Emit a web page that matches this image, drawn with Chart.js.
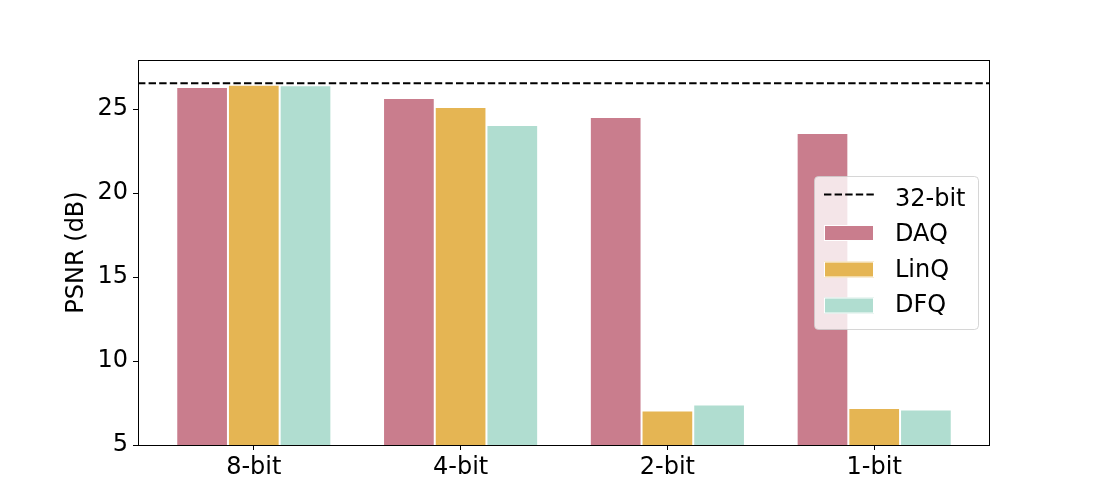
<!DOCTYPE html>
<html>
<head>
<meta charset="utf-8">
<script src="https://cdn.jsdelivr.net/npm/chart.js@4/dist/chart.umd.min.js"></script>
<style>
  html, body { margin: 0; padding: 0; background: #fff; }
  #wrap { width: 1100px; height: 500px; }
</style>
</head>
<body>
<div id="wrap"><canvas id="psnr" width="1100" height="500"></canvas></div>
<script>
// ── Data ──
const CATEGORIES = ['8-bit', '4-bit', '2-bit', '1-bit'];
const DAQ  = [26.32, 25.67, 24.54, 23.58];
const LINQ = [26.46, 25.13, 7.05, 7.21];
const DFQ  = [26.42, 24.06, 7.41, 7.11];
const FULL_PRECISION = 26.54;   // 32-bit reference
const Y_TICKS = [5, 10, 15, 20, 25];
const X_RANGE = [-0.56, 3.56];
const Y_RANGE = [5, 27.93];

const COLORS = { daq: '#c97d8d', linq: '#e5b553', dfq: '#b0ddd0' };
const FONT = { family: '"DejaVu Sans", sans-serif', size: 24 };

const toPoints = arr => arr.map((v, i) => ({ x: i, y: v }));

// frame around the plot area
const framePlugin = {
    id: 'frame',
    afterDatasetsDraw(chart) {
        const { ctx, chartArea: a } = chart;
        ctx.save();
        ctx.strokeStyle = '#000';
        ctx.lineWidth = 1;
        ctx.strokeRect(Math.round(a.left) + 0.5, Math.round(a.top) + 0.5,
            Math.round(a.right - a.left) - 1, Math.round(a.bottom - a.top));
        ctx.restore();
    }
};

// matplotlib-like legend box
const legendPlugin = {
    id: 'mplLegend',
    afterDraw(chart) {
        const ctx = chart.ctx;
        const box = { x: 814, y: 176, w: 164, h: 153 };
        const marks = [194.5, 233, 269.5, 305.5];
        const baselines = [206, 241, 277, 312];
        ctx.save();
        ctx.beginPath();
        ctx.roundRect(box.x + 0.5, box.y + 0.5, box.w, box.h, 4);
        ctx.fillStyle = 'rgba(255,255,255,0.8)';
        ctx.fill();
        ctx.strokeStyle = 'rgba(204,204,204,0.8)';
        ctx.lineWidth = 1;
        ctx.stroke();

        ctx.font = FONT.size + 'px ' + FONT.family;
        ctx.textBaseline = 'alphabetic';
        chart.data.datasets.forEach((ds, i) => {
            const y = marks[i];
            if (ds.type === 'line') {
                ctx.beginPath();
                ctx.setLineDash(ds.borderDash);
                ctx.strokeStyle = ds.borderColor;
                ctx.lineWidth = ds.borderWidth;
                ctx.moveTo(824, y);
                ctx.lineTo(874, y);
                ctx.stroke();
                ctx.setLineDash([]);
            } else {
                ctx.fillStyle = ds.backgroundColor;
                ctx.fillRect(824, y - 8, 50, 16);
                ctx.strokeStyle = '#fff';
                ctx.lineWidth = 1;
                ctx.strokeRect(824.5, y - 7.5, 49, 15);
            }
            ctx.fillStyle = '#000';
            ctx.fillText(ds.label, 895, baselines[i]);
        });
        ctx.restore();
    }
};

const barStyle = { borderColor: '#fff', borderWidth: 1, borderSkipped: false,
                   categoryPercentage: 0.75, barPercentage: 1.0, order: 1 };

new Chart(document.getElementById('psnr'), {
    type: 'bar',
    data: {
        datasets: [
            {
                type: 'line', label: '32-bit',
                data: X_RANGE.map(x => ({ x, y: FULL_PRECISION })),
                borderColor: '#000', borderWidth: 2, borderDash: [7.4, 3.2],
                pointRadius: 0, fill: false, order: 0
            },
            { label: 'DAQ',  data: toPoints(DAQ),  backgroundColor: COLORS.daq,  ...barStyle },
            { label: 'LinQ', data: toPoints(LINQ), backgroundColor: COLORS.linq, ...barStyle },
            { label: 'DFQ',  data: toPoints(DFQ),  backgroundColor: COLORS.dfq,  ...barStyle }
        ]
    },
    options: {
        responsive: false, animation: false,
        layout: { padding: { top: 60, right: 110, left: 0, bottom: 0 } },
        plugins: { legend: { display: false }, tooltip: { enabled: false } },
        scales: {
            x: {
                type: 'linear', min: X_RANGE[0], max: X_RANGE[1], offset: false,
                afterBuildTicks: s => { s.ticks = CATEGORIES.map((_, i) => ({ value: i })); },
                afterFit: s => { s.height = 55; },
                ticks: { callback: v => CATEGORIES[v], color: '#000', font: FONT, padding: 3, maxRotation: 0, autoSkip: false },
                grid: { drawOnChartArea: false, offset: false, tickLength: 5, color: '#000' },
                border: { display: false }
            },
            y: {
                min: Y_RANGE[0], max: Y_RANGE[1],
                afterBuildTicks: s => { s.ticks = Y_TICKS.map(v => ({ value: v })); },
                afterFit: s => { s.width = 138; },
                ticks: { color: '#000', font: FONT, padding: 5 },
                grid: { drawOnChartArea: false, tickLength: 5, color: '#000' },
                border: { display: false },
                title: { display: true, text: 'PSNR (dB)', color: '#000', font: FONT, padding: { top: 62, bottom: 0 } }
            }
        }
    },
    plugins: [framePlugin, legendPlugin]
});
</script>
</body>
</html>
